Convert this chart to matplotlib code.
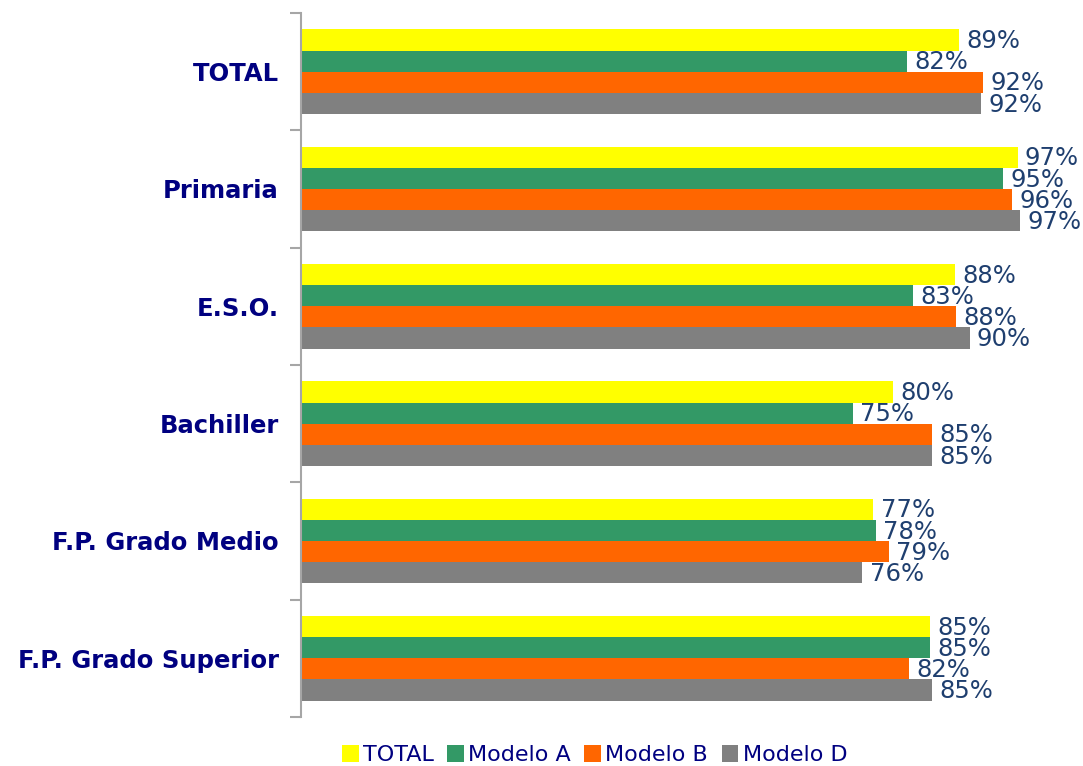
import matplotlib
matplotlib.use("Agg")
import matplotlib.pyplot as plt
import numpy as np

categories = ["TOTAL", "Primaria", "E.S.O.", "Bachiller", "F.P. Grado Medio", "F.P. Grado Superior"]
series_names = ["TOTAL", "Modelo A", "Modelo B", "Modelo D"]
total = [89.0, 96.9, 88.4, 80.0, 77.4, 85.0]
modelo_a = [81.9, 94.9, 82.8, 74.6, 77.7, 85.0]
modelo_b = [92.2, 96.2, 88.6, 85.3, 79.5, 82.2]
modelo_d = [92.0, 97.2, 90.4, 85.3, 75.9, 85.3]
labels_total = ["89%", "97%", "88%", "80%", "77%", "85%"]
labels_a = ["82%", "95%", "83%", "75%", "78%", "85%"]
labels_b = ["92%", "96%", "88%", "85%", "79%", "82%"]
labels_d = ["92%", "97%", "90%", "85%", "76%", "85%"]

colors = ["#FFFF00", "#339966", "#FF6600", "#808080"]
series = [total, modelo_a, modelo_b, modelo_d]
labels = [labels_total, labels_a, labels_b, labels_d]

fig = plt.figure(figsize=(10.83, 7.66), dpi=100)
ax = fig.add_axes([301/1083, 1-717/766, 1-301/1083, (717-13)/766])

n = len(categories)
y = np.arange(n)
h = 0.18
handles = []
for i, (vals, col, labs, name) in enumerate(zip(series, colors, labels, series_names)):
    pos = y - 0.36 + h*(i+0.5)
    b = ax.barh(pos, vals, height=h, color=col, label=name, linewidth=0)
    handles.append(b)
    for p, v, t in zip(pos, vals, labs):
        ax.text(v + 1.0, p + 0.01, t, va="center", ha="left", fontsize=17.5,
                color="#1F3F6F", family="DejaVu Sans")

ax.set_ylim(n - 0.5, -0.5)
ax.set_xlim(0, (1083-301)/7.395)
ax.set_yticks(y)
ax.set_yticklabels(categories, fontsize=17.5, fontweight="bold", color="#000080")
ax.set_yticks(np.arange(-0.5, n, 1.0), minor=True)
ax.tick_params(axis="y", which="major", length=0, pad=16)
ax.tick_params(axis="y", which="minor", length=8, color="#A6A6A6", width=1.5, direction="out")
ax.set_xticks([])
for s in ["top", "right", "bottom"]:
    ax.spines[s].set_visible(False)
ax.spines["left"].set_color("#A6A6A6")
ax.spines["left"].set_linewidth(1.5)

fig.legend(handles=handles, labels=series_names, loc="lower center",
           bbox_to_anchor=(0.549, -0.025), ncol=4, frameon=False,
           prop={"size": 16}, labelcolor="#000080", handlelength=0.75,
           handleheight=0.75, handletextpad=0.2, columnspacing=0.6)

fig.savefig("out.png", dpi=100)
